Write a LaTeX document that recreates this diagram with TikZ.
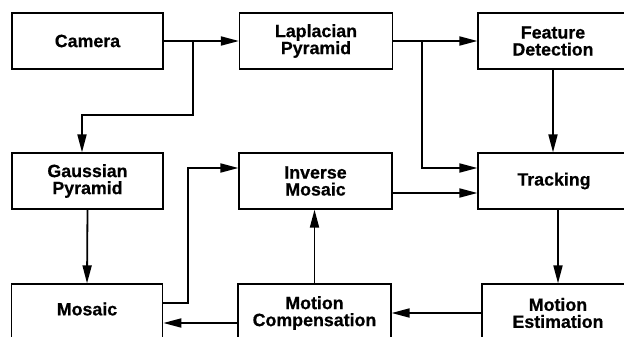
\documentclass[tikz,border=0pt]{standalone}
\usepackage{fontspec}
\setmainfont[FakeBold=0.6]{Liberation Sans}
\usetikzlibrary{arrows.meta,calc}
\begin{document}
\begin{tikzpicture}[x=1pt,y=-1pt,
  box/.style={draw, line width=1.2pt, minimum height=56pt, inner sep=0pt, align=center,
    font=\fontsize{17.8}{17}\selectfont\bfseries},
  arr/.style={line width=1.8pt, -{Triangle[length=18pt,width=9pt]}}]
\useasboundingbox (0,0) rectangle (624,337);
\clip (0,0) rectangle (624,337);
% nodes
\node[box, minimum width=151pt] (cam) at (87.5,41) {Camera};
\node[box, minimum width=153pt] (lap) at (316,41) {Laplacian\\Pyramid};
\node[box, minimum width=150pt] (feat) at (553,41) {Feature\\Detection};
\node[box, minimum width=151pt] (gau) at (87.5,181) {Gaussian\\Pyramid};
\node[box, minimum width=153pt] (inv) at (315.5,181) {Inverse\\Mosaic};
\node[box, minimum width=152pt] (trk) at (554,181) {Tracking};
\node[box, minimum width=151.5pt, minimum height=58pt] (mos) at (87,313) {\raisebox{4pt}[\height][\depth]{Mosaic}};
\node[box, minimum width=153pt, minimum height=58pt] (comp) at (314.5,313) {Motion\\Compensation};
\node[box, minimum width=152pt, minimum height=58pt] (est) at (558,313) {Motion\\Estimation};
% junction coordinates
\coordinate (j1) at (193,41);
\coordinate (j2) at (82,115);
\coordinate (j3) at (422,41);
\coordinate (j4) at (188,0);
\coordinate (t1) at ($(trk.south)+(4,0)$);
\coordinate (m1) at ($(mos.east)+(0,-10)$);
\coordinate (i1) at ($(inv.west)+(0,-13)$);
% connectors
\draw[arr] (cam) -- (lap);
\draw[arr] (j1) -- (j1 |- j2) -- (j2) -- (j2 |- gau.north);
\draw[arr] (lap) -- (feat);
\draw[arr] (j3) |- ($(trk.west)+(0,-13)$);
\draw[arr] ($(inv.east)+(0,12)$) -- ($(trk.west)+(0,12)$);
\draw[arr] (feat.south) -- (feat.south |- trk.north);
\draw[arr] (t1) -- (t1 |- est.north);
\draw[arr] (est) -- (comp);
\draw[arr] (comp.north) -- (comp.north |- inv.south);
\draw[arr] ($(comp.west)+(0,10)$) -- ($(mos.east)+(0,10)$);
\draw[arr] (gau.south) -- (mos.north);
\draw[arr] (m1) -- (m1 -| j4) -- (j4 |- i1) -- (i1);
\end{tikzpicture}
\end{document}
